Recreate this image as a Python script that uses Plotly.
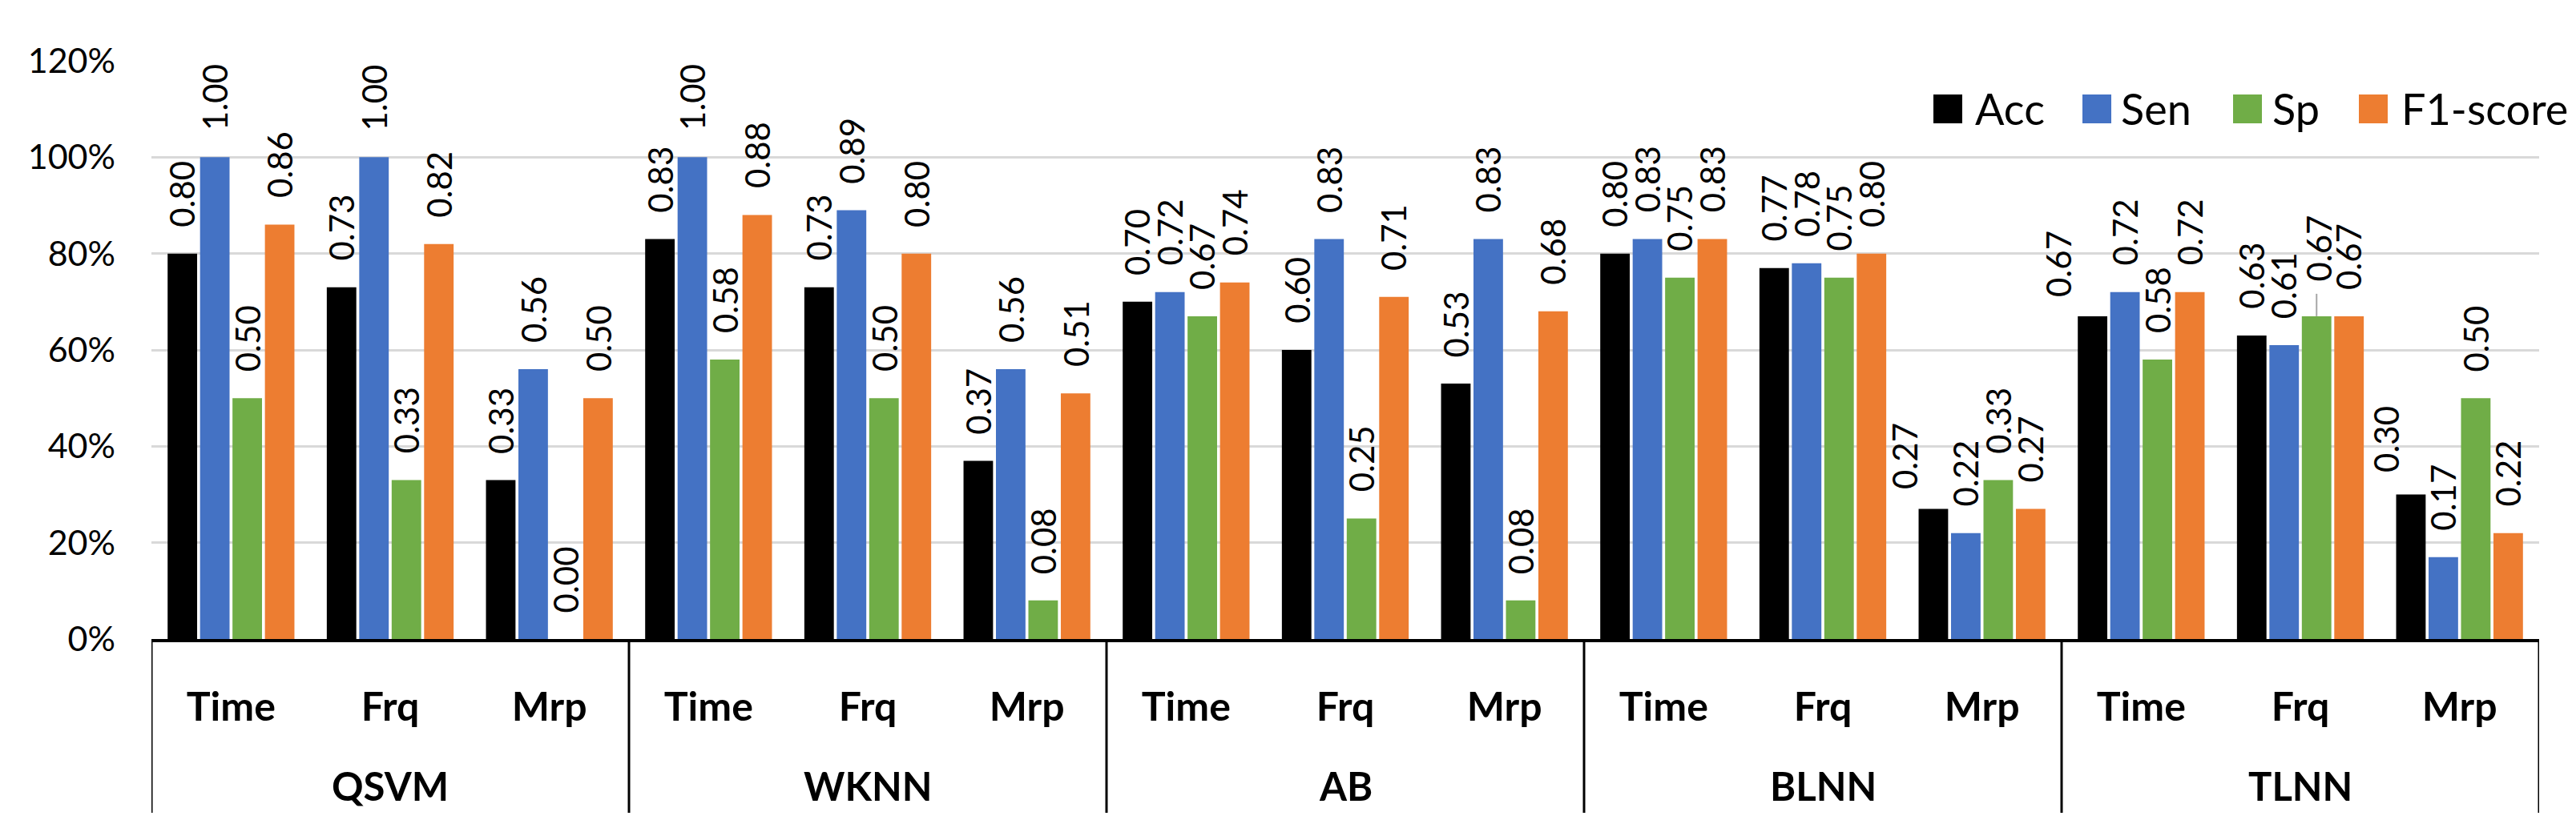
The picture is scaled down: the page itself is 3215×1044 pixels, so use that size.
import plotly.graph_objects as go

# ---------------- data ----------------
groups = ["QSVM", "WKNN", "AB", "BLNN", "TLNN"]
features = ["Time", "Frq", "Mrp"]
metrics = ["Acc", "Sen", "Sp", "F1-score"]

acc = [0.80, 0.73, 0.33, 0.83, 0.73, 0.37, 0.70, 0.60, 0.53, 0.80, 0.77, 0.27, 0.67, 0.63, 0.30]
sen = [1.00, 1.00, 0.56, 1.00, 0.89, 0.56, 0.72, 0.83, 0.83, 0.83, 0.78, 0.22, 0.72, 0.61, 0.17]
sp = [0.50, 0.33, 0.00, 0.58, 0.50, 0.08, 0.67, 0.25, 0.08, 0.75, 0.75, 0.33, 0.58, 0.67, 0.50]
f1 = [0.86, 0.82, 0.50, 0.88, 0.80, 0.51, 0.74, 0.71, 0.68, 0.83, 0.80, 0.27, 0.72, 0.67, 0.22]

y_tick_vals = [0, 0.2, 0.4, 0.6, 0.8, 1.0, 1.2]

# ---------------- style ----------------
colors = ["#000000", "#4472C4", "#70AD47", "#ED7D31"]
FONT = "Lato"
W, H = 3215, 1044
ML, MR, MT, MB = 181, 54, 68, 254
BARGAP, GROUPGAP = 0.185, 0.09

# label offsets (pixels) for data labels moved by hand in the original
label_moves = {
    ("BLNN", "Mrp", 0): (-36, -8),
    ("TLNN", "Time", 0): (-42, -9),
    ("TLNN", "Mrp", 0): (-31, -5),
    ("TLNN", "Frq", 2): (3, 10),
}
leader_lines = [("TLNN", "Frq", 2)]

series = [acc, sen, sp, f1]
keys = [f"{g}|{f}" for g in groups for f in features]
ticktext = [f for g in groups for f in features]

fig = go.Figure()
for name, vals, col in zip(metrics, series, colors):
    fig.add_trace(go.Bar(
        x=keys, y=vals, name=name,
        marker=dict(color=col, line=dict(width=0)),
        showlegend=False, hoverinfo="x+y",
    ))

annotations = []
shapes = []
slot = (1 - BARGAP) / len(metrics)
for si, vals in enumerate(series):
    for ci, v in enumerate(vals):
        g = groups[ci // 3]
        f = features[ci % 3]
        xpos = ci + (si - 1.5) * slot
        dx, dy = label_moves.get((g, f, si), (0, 0))
        annotations.append(dict(
            x=xpos, y=v, xref="x", yref="y", text=f"{v:.2f}",
            textangle=-90, showarrow=False, xanchor="center", yanchor="bottom",
            xshift=dx, yshift=31 + dy,
            font=dict(family=FONT, size=42, color="#000000"),
        ))
        if (g, f, si) in leader_lines:
            shapes.append(dict(
                type="line", xref="x", yref="y", ysizemode="pixel", yanchor=v,
                x0=xpos, x1=xpos, y0=0, y1=28,
                line=dict(color="#A6A6A6", width=2),
            ))

# group labels and separators below the axis
pw = W - ML - MR
ph = H - MT - MB
for gi, g in enumerate(groups):
    annotations.append(dict(
        x=gi * 3 + 1, y=-(973 - (H - MB)) / ph, xref="x", yref="paper",
        text=g, showarrow=False, xanchor="center", yanchor="middle",
        font=dict(family=FONT, size=49, color="#000000", weight="bold"),
    ))
for b in range(len(groups) + 1):
    shapes.append(dict(
        type="line", xref="x", yref="paper",
        x0=b * 3 - 0.5, x1=b * 3 - 0.5, y0=0, y1=-(1007 - (H - MB)) / ph,
        line=dict(color="#000000", width=3),
    ))

# legend (drawn manually to match the large swatches)
leg_sq = [2423, 2609, 2797, 2954]
leg_tx = [2455, 2637, 2826, 2987]
leg_y = (H - MB - 128) / ph
for name, col, sx, tx in zip(metrics, colors, leg_sq, leg_tx):
    shapes.append(dict(
        type="rect", xref="paper", yref="paper",
        xsizemode="pixel", ysizemode="pixel",
        xanchor=(sx - ML) / pw, yanchor=leg_y,
        x0=-18, x1=18, y0=-18, y1=18,
        fillcolor=col, line=dict(width=0),
    ))
    annotations.append(dict(
        x=(tx - ML) / pw, y=leg_y, xref="paper", yref="paper",
        text=name, showarrow=False, xanchor="left", yanchor="middle",
        font=dict(family=FONT, size=54, color="#000000"),
    ))

fig.update_layout(
    width=W, height=H,
    margin=dict(l=ML, r=MR, t=MT, b=MB, pad=0),
    barmode="group", bargap=BARGAP, bargroupgap=GROUPGAP,
    plot_bgcolor="#FFFFFF", paper_bgcolor="#FFFFFF",
    annotations=annotations, shapes=shapes,
    showlegend=False,
    font=dict(family=FONT, color="#000000"),
)
fig.update_xaxes(
    type="category", tickvals=keys, ticktext=ticktext,
    showgrid=False, showline=True, linecolor="#000000", linewidth=4,
    ticks="", ticklabelstandoff=38,
    tickfont=dict(family=FONT, size=50, color="#000000", weight="bold"),
    range=[-0.5, len(keys) - 0.5],
)
fig.update_yaxes(
    range=[0, 1.2], tickvals=y_tick_vals, tickformat=".0%",
    showgrid=True, gridcolor="#D9D9D9", gridwidth=3,
    zeroline=False, showline=False, ticks="", ticklabelstandoff=44,
    tickfont=dict(family=FONT, size=43, color="#000000"),
)

fig.write_html("out.html")
